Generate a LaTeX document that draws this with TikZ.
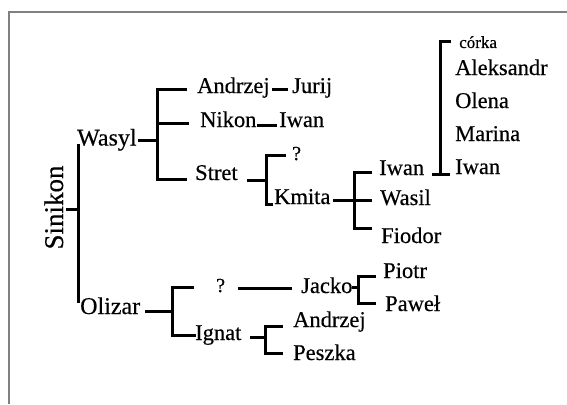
\documentclass[tikz,border=0pt]{standalone}
\usepackage{fontspec}
\setmainfont{Liberation Serif}[FakeBold=0.4]
\begin{document}
\begin{tikzpicture}[x=1pt,y=-1pt,
  nm/.style={inner sep=0pt, anchor=base west, font=\fontsize{22.5}{27}\selectfont, text=black},
  bg/.style={nm, font=\fontsize{24}{28}\selectfont},
  sm/.style={nm, font=\fontsize{17}{20}\selectfont},
  qm/.style={nm, font=\fontsize{20}{23}\selectfont},
  ln/.style={line width=3pt, line join=miter, draw=black},
  frame/.style={line width=1.8pt, draw=black!50}]
\useasboundingbox (0,0) rectangle (567,404);
\draw[frame] (9,404) -- (9,12) -- (567,12);

% names
\node[nm, anchor=base, rotate=90, font=\fontsize{27}{30}\selectfont] (sinikon) at (63,207.5) {Sinikon};
\node[bg] (wasyl) at (77,145.5) {Wasyl};
\node[bg] (olizar) at (80,314) {Olizar};
\node[nm] (andrzejA) at (197,93) {Andrzej};
\node[nm] (jurij) at (292,93) {Jurij};
\node[nm] (nikon) at (200,127) {Nikon};
\node[nm] (iwanA) at (279,127) {Iwan};
\node[nm] (stret) at (195,180) {Stret};
\node[qm] (qA) at (292,160) {?};
\node[nm] (kmita) at (274,204) {Kmita};
\node[nm] (iwanB) at (379,175) {Iwan};
\node[nm] (wasil) at (380,205) {Wasil};
\node[nm] (fiodor) at (381,243) {Fiodor};
\node[sm] (corka) at (459,48) {córka};
\node[nm] (aleksandr) at (455,75) {Aleksandr};
\node[nm] (olena) at (455,108) {Olena};
\node[nm] (marina) at (455,141) {Marina};
\node[nm] (iwanC) at (455,174) {Iwan};
\node[qm] (qB) at (216,292) {?};
\node[nm] (jacko) at (301,293) {Jacko};
\node[nm] (piotr) at (383,278) {Piotr};
\node[nm] (pawel) at (385,311) {Paweł};
\node[nm] (ignat) at (195,340) {Ignat};
\node[nm] (andrzejB) at (293,327) {Andrzej};
\node[nm] (peszka) at (293,360) {Peszka};

% junction bars
\coordinate (jS) at (78,209);
\coordinate (jW) at (157,140);
\coordinate (jSt) at (266,180);
\coordinate (jK) at (354,200);
\coordinate (jI) at (440,174);
\coordinate (jO) at (172,311);
\coordinate (jJ) at (358,287);
\coordinate (jG) at (265,337);

% Sinikon -> Wasyl, Olizar
\draw[ln] (78,144) -- (78,303);
\draw[ln] (66,209) -- (jS);
% Wasyl -> Andrzej, Nikon, Stret
\draw[ln] (138,140) -- (jW);
\draw[ln] (187,89) -- (157,89) -- (157,179) -- (187,179);
\draw[ln] (157,123.5) -- (189,123.5);
\draw[ln] (272,89) -- (288,89);
\draw[ln] (257,125) -- (277,125);
% Stret -> ?, Kmita
\draw[ln] (247,180) -- (jSt);
\draw[ln] (286,155) -- (266,155) -- (266,204) -- (273,204);
% Kmita -> Iwan, Wasil, Fiodor
\draw[ln] (333,200) -- (372,200);
\draw[ln] (372,172) -- (354,172) -- (354,228) -- (372,228);
% Iwan -> children
\draw[ln] (432,174) -- (450,174);
\draw[ln] (451,42) -- (440,42) -- (jI);
% Olizar -> ?, Ignat
\draw[ln] (145,311) -- (jO);
\draw[ln] (194,287) -- (172,287) -- (172,335) -- (196,335);
\draw[ln] (238,288) -- (292,288);
% Jacko -> Piotr, Pawel
\draw[ln] (352,287) -- (jJ);
\draw[ln] (376,276) -- (358,276) -- (358,303) -- (376,303);
% Ignat -> Andrzej, Peszka
\draw[ln] (250,337) -- (jG);
\draw[ln] (283,326) -- (265,326) -- (265,353) -- (283,353);
\end{tikzpicture}
\end{document}
